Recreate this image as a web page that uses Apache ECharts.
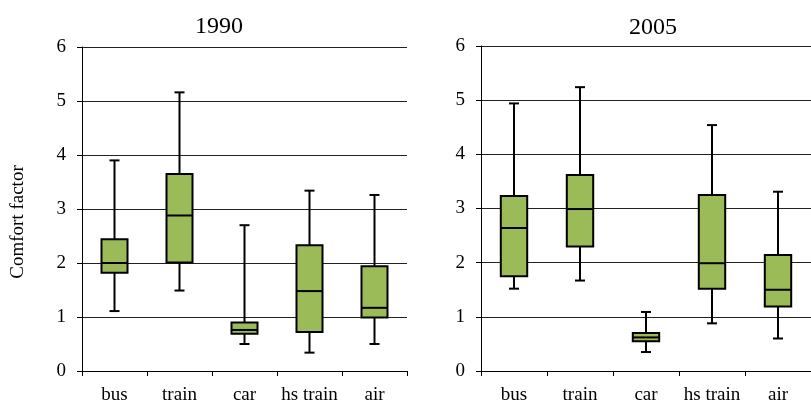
<!DOCTYPE html>
<html>
<head>
<meta charset="utf-8">
<script src="https://cdn.jsdelivr.net/npm/echarts@6/dist/echarts.min.js"></script>
<style>
  html, body { margin: 0; padding: 0; background: #fff; }
  #chart { width: 811px; height: 405px; }
</style>
</head>
<body>
<div id="chart"></div>
<script>
// categories and tick labels
const modes = ["bus", "train", "car", "hs train", "air"];
const yTicks = [0, 1, 2, 3, 4, 5, 6];

// 1990 box values
const min1990 = [1.11, 1.49, 0.50, 0.34, 0.50];
const q1_1990 = [1.82, 2.01, 0.69, 0.72, 0.99];
const med1990 = [2.00, 2.88, 0.76, 1.48, 1.17];
const q3_1990 = [2.44, 3.65, 0.90, 2.33, 1.94];
const max1990 = [3.90, 5.16, 2.70, 3.34, 3.26];

// 2005 box values
const min2005 = [1.52, 1.67, 0.35, 0.88, 0.60];
const q1_2005 = [1.75, 2.30, 0.55, 1.52, 1.19];
const med2005 = [2.64, 2.99, 0.62, 1.99, 1.50];
const q3_2005 = [3.23, 3.62, 0.70, 3.25, 2.14];
const max2005 = [4.94, 5.24, 1.09, 4.54, 3.31];

const FONT = "Liberation Serif";
const GREEN = "#9BBB59";

function boxRows(mn, q1, md, q3, mx) {
  return modes.map((m, i) => [i, mn[i], q1[i], md[i], q3[i], mx[i]]);
}

// draw one box with whiskers using the axis scales
function renderBox(params, api) {
  const i = api.value(0);
  const pMin = api.coord([i, api.value(1)]);
  const pQ1 = api.coord([i, api.value(2)]);
  const pMed = api.coord([i, api.value(3)]);
  const pQ3 = api.coord([i, api.value(4)]);
  const pMax = api.coord([i, api.value(5)]);
  const band = api.size([1, 0])[0];
  const boxW = band * 0.4;
  const capW = 10;
  const cx = pMed[0];
  const line = { stroke: "#000", lineWidth: 2 };
  return {
    type: "group",
    children: [
      { type: "line", shape: { x1: cx, y1: pQ3[1], x2: cx, y2: pMax[1] }, style: line },
      { type: "line", shape: { x1: cx, y1: pQ1[1], x2: cx, y2: pMin[1] }, style: line },
      { type: "line", shape: { x1: cx - capW / 2, y1: pMax[1], x2: cx + capW / 2, y2: pMax[1] }, style: line },
      { type: "line", shape: { x1: cx - capW / 2, y1: pMin[1], x2: cx + capW / 2, y2: pMin[1] }, style: line },
      { type: "rect", shape: { x: cx - boxW / 2, y: pQ3[1], width: boxW, height: pQ1[1] - pQ3[1] },
        style: { fill: GREEN, stroke: "#000", lineWidth: 2 } },
      { type: "line", shape: { x1: cx - boxW / 2, y1: pMed[1], x2: cx + boxW / 2, y2: pMed[1] }, style: line }
    ]
  };
}

function xAxisFor(idx) {
  return {
    gridIndex: idx,
    type: "category",
    data: modes,
    boundaryGap: true,
    axisLine: { show: true, lineStyle: { color: "#000", width: 1 } },
    axisTick: { show: true, length: 5, alignWithLabel: false, lineStyle: { color: "#000" } },
    axisLabel: { color: "#000", fontFamily: FONT, fontSize: 19, margin: 15, interval: 0 },
    splitLine: { show: false }
  };
}

function yAxisFor(idx) {
  return {
    gridIndex: idx,
    type: "value",
    min: yTicks[0],
    max: yTicks[yTicks.length - 1],
    interval: 1,
    axisLine: { show: true, lineStyle: { color: "#000", width: 1 } },
    axisTick: { show: true, length: 5, lineStyle: { color: "#000" } },
    axisLabel: { color: "#000", fontFamily: FONT, fontSize: 19, margin: 16 },
    splitLine: { show: true, lineStyle: { color: "#222", width: 1 } }
  };
}

const chart = echarts.init(document.getElementById("chart"), null, { renderer: "canvas" });
chart.setOption({
  animation: false,
  backgroundColor: "#fff",
  title: [
    { text: "1990", left: 214, top: 10, textAlign: "center",
      textStyle: { fontFamily: FONT, fontSize: 24, fontWeight: "normal", color: "#000" } },
    { text: "2005", left: 648, top: 11, textAlign: "center",
      textStyle: { fontFamily: FONT, fontSize: 24, fontWeight: "normal", color: "#000" } }
  ],
  graphic: [
    { type: "text", x: 18, y: 222, rotation: Math.PI / 2,
      style: { text: "Comfort factor", fontFamily: FONT, fontSize: 19, fill: "#000",
        textAlign: "center", textVerticalAlign: "middle" } }
  ],
  grid: [
    { left: 82, right: 404, top: 47, bottom: 32 },
    { left: 481, right: -7, top: 46, bottom: 31 }
  ],
  xAxis: [xAxisFor(0), xAxisFor(1)],
  yAxis: [yAxisFor(0), yAxisFor(1)],
  series: [
    { type: "custom", xAxisIndex: 0, yAxisIndex: 0, renderItem: renderBox,
      encode: { x: 0, y: [1, 2, 3, 4, 5] },
      data: boxRows(min1990, q1_1990, med1990, q3_1990, max1990) },
    { type: "custom", xAxisIndex: 1, yAxisIndex: 1, renderItem: renderBox,
      encode: { x: 0, y: [1, 2, 3, 4, 5] },
      data: boxRows(min2005, q1_2005, med2005, q3_2005, max2005) }
  ]
});
</script>
</body>
</html>
